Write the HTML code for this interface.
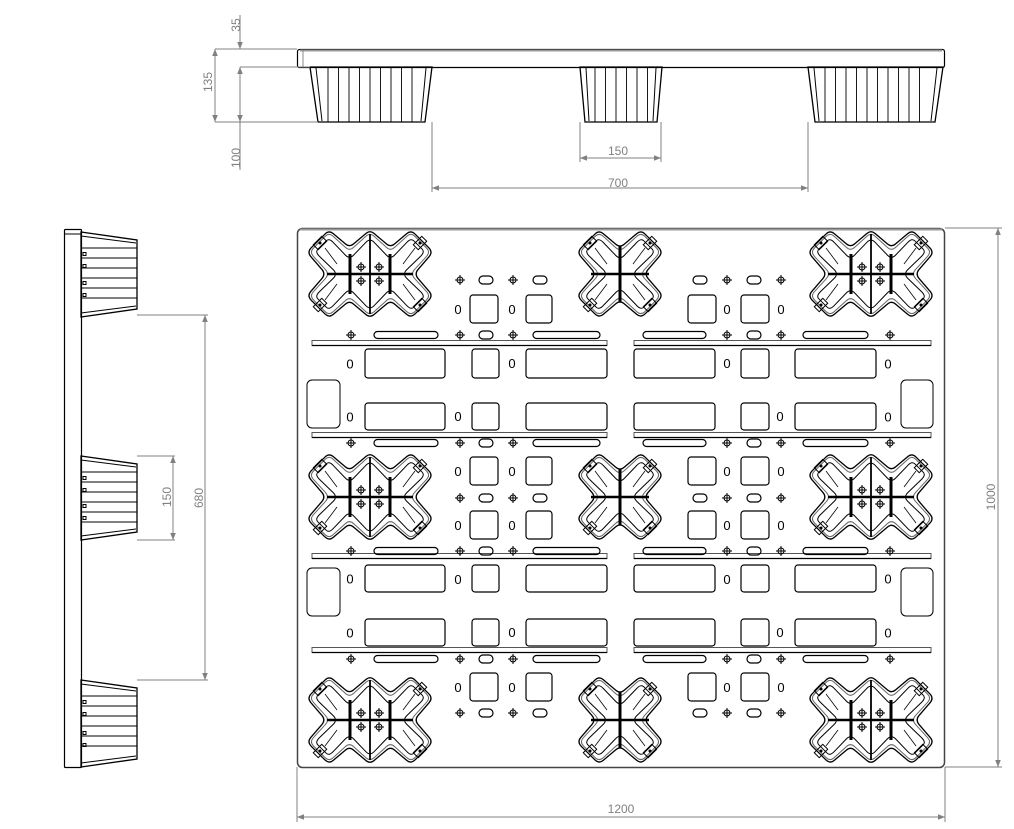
<!DOCTYPE html>
<html><head><meta charset="utf-8"><style>
html,body{margin:0;padding:0;background:#fff;width:1014px;height:829px;overflow:hidden}
svg{display:block}
text{font-family:"Liberation Sans",sans-serif;}
</style></head><body>
<svg id="s" width="1014" height="829" viewBox="0 0 1014 829" xmlns="http://www.w3.org/2000/svg">
<defs>
<marker id="ar" viewBox="0 0 10 10" refX="10" refY="5" markerWidth="9" markerHeight="7" orient="auto-start-reverse" markerUnits="userSpaceOnUse"><path d="M0,1 L10,5 L0,9 z" fill="#808080"/></marker>
</defs>
<g id="g"></g>
</svg>
<script>
var o='';
function L(x1,y1,x2,y2,c,w,ex){o+='<line x1="'+x1+'" y1="'+y1+'" x2="'+x2+'" y2="'+y2+'" stroke="'+(c||'#000')+'" stroke-width="'+(w||1)+'" '+(ex||'')+'/>';}
function R(x,y,w,h,r,c,sw,f){o+='<rect x="'+x+'" y="'+y+'" width="'+w+'" height="'+h+'" rx="'+(r||0)+'" fill="'+(f||'none')+'" stroke="'+(c||'#000')+'" stroke-width="'+(sw||1.2)+'"/>';}
function T(x,y,s,rot,sz,c){o+='<text x="'+x+'" y="'+y+'" font-size="'+(sz||13)+'" fill="'+(c||'#808080')+'" text-anchor="middle" '+(rot?'transform="rotate(-90 '+x+' '+y+')"':'')+'>'+s+'</text>';}
function Z(x,y){o+='<text x="'+x+'" y="'+(y+5)+'" font-size="13" fill="#000" text-anchor="middle">0</text>';}
function X(x,y){o+='<circle cx="'+x+'" cy="'+y+'" r="3" fill="none" stroke="#000" stroke-width="1"/>';L(x-5,y,x+5,y);L(x,y-5,x,y+5);}
function OV(x,y){R(x-7,y-4,14,8,4);}
function SL(x1,x2,y){R(x1,y-3.5,x2-x1,7,3.5);}
function A(x1,y1,x2,y2,both){L(x1,y1,x2,y2,'#808080',1,'marker-end="url(#ar)"'+(both?' marker-start="url(#ar)"':''));}
function rpath(p,t){var n=p.length,d='';
 for(var i=0;i<n;i++){var a=p[(i-1+n)%n],b=p[i],c=p[(i+1)%n];
  var p1=[b[0]+(a[0]-b[0])*t,b[1]+(a[1]-b[1])*t],p2=[b[0]+(c[0]-b[0])*t,b[1]+(c[1]-b[1])*t];
  d+=(i==0?'M':'L')+p1[0].toFixed(1)+','+p1[1].toFixed(1)+' Q'+b[0].toFixed(1)+','+b[1].toFixed(1)+' '+p2[0].toFixed(1)+','+p2[1].toFixed(1)+' ';}
 return d+'Z';}
R(297.5,228.5,647,539,5,'#444',1.5);
L(300,229.5,942,229.5,'#999',2);
function blk(cx,cy,n,s){
 var dy=22,d=22,xs=[];for(var i=0;i<n;i++)xs.push(cx+(i-(n-1)/2)*s);
 var ys=[cy-dy,cy+dy];
 function shape(dd,col,w){
  var p=[];var k=0.85;
  var top=ys[0]-dd,bot=ys[1]+dd;
  p.push([xs[0]-dd,ys[0]]);
  for(var i=0;i<n;i++){p.push([xs[i],top]);if(i<n-1)p.push([(xs[i]+xs[i+1])/2,top+s/2*k+(22-dd)*0.5]);}
  p.push([xs[n-1]+dd,ys[0]]);p.push([xs[n-1]+dd-dy*k-(22-dd)*0.5,cy]);p.push([xs[n-1]+dd,ys[1]]);
  for(var i=n-1;i>=0;i--){p.push([xs[i],bot]);if(i>0)p.push([(xs[i]+xs[i-1])/2,bot-s/2*k-(22-dd)*0.5]);}
  p.push([xs[0]-dd,ys[1]]);p.push([xs[0]-dd+dy*k+(22-dd)*0.5,cy]);
  o+='<path d="'+rpath(p,0.2)+'" fill="none" stroke="'+col+'" stroke-width="'+w+'"/>';
 }
 shape(d,'#000',1.3);shape(d-2.5,'#666',1);shape(d-8,'#000',1);
 [[xs[0]-9,ys[0]-9],[xs[n-1]+9,ys[0]-9],[xs[0]-9,ys[1]+9],[xs[n-1]+9,ys[1]+9]].forEach(function(q){
  o+='<rect x="'+(q[0]-3.5)+'" y="'+(q[1]-6)+'" width="7" height="12" fill="none" stroke="#000" stroke-width="1" transform="rotate(45 '+q[0]+' '+q[1]+')"/>';
  o+='<circle cx="'+q[0]+'" cy="'+q[1]+'" r="1.5"/>';});
 L(xs[0]-4,ys[0]-4,xs[0]+8,ys[0]+12,'#000',0.8);L(xs[n-1]+4,ys[0]-4,xs[n-1]-8,ys[0]+12,'#000',0.8);
 L(xs[0]-4,ys[1]+4,xs[0]+8,ys[1]-12,'#000',0.8);L(xs[n-1]+4,ys[1]+4,xs[n-1]-8,ys[1]-12,'#000',0.8);
 var hw=(xs[n-1]-xs[0])/2+(n==2?8:2);
 L(cx-hw,cy,cx+hw,cy,'#000',2.5);
 if(n==2){L(cx,cy-28,cx,cy+28,'#000',3);}
 else{L(cx-20,cy-20,cx-20,cy+20,'#000',3);L(cx+20,cy-20,cx+20,cy+20,'#000',3);L(cx,cy-40,cx,cy+40,'#000',1.8);
  [[-9,-7],[9,-7],[-9,7],[9,7]].forEach(function(q){X(cx+q[0],cy+q[1]);});}
}
[274,497,720].forEach(function(cy){blk(370,cy,3,41);blk(620,cy,2,42);blk(871,cy,3,41);});
[343,435,556,650].forEach(function(y){R(312,y-2.5,295,5,0,'#555',1);R(634,y-2.5,297,5,0,'#555',1);L(312,y+2.5,607,y+2.5,'#000',1.3);L(634,y+2.5,931,y+2.5,'#000',1.3);});
[[349,378],[403,430],[565,592],[619,646]].forEach(function(r){var y=r[0],h=r[1]-r[0];
 R(365,y,80,h,3);R(472,y,27,h,3);R(526,y,81,h,3);R(634,y,81,h,3);R(741,y,28,h,3);R(795,y,81,h,3);
 Z(350,y+h/2);Z(888,y+h/2);});
Z(512,363);Z(727,363);Z(458,416);Z(780,416);Z(458,579);Z(727,579);Z(512,632);Z(780,632);
R(307,380,33,48,5,'#000',1);R(901,380,32,48,5,'#000',1);R(307,568,33,48,5,'#000',1);R(901,568,32,48,5,'#000',1);
[335,443,551,659].forEach(function(y){
 X(351,y);SL(374,438,y);X(460,y);OV(486,y);X(513,y);SL(533,600,y);
 SL(643,706,y);X(727,y);OV(754,y);X(781,y);SL(803,868,y);X(890,y);});
function sq(y){R(470,y,28,28,3);R(526,y,26,28,3);R(688,y,28,28,3);R(741,y,28,28,3);Z(458,y+14);Z(512,y+14);Z(727,y+14);Z(781,y+14);}
sq(295);sq(457);sq(511);sq(673);
[280,498,713].forEach(function(y){X(460,y);OV(486,y);X(513,y);OV(540,y);OV(700,y);X(727,y);OV(754,y);X(781,y);});
R(297.5,49.5,647,18,2,'#000',1.2);L(300,50.5,942,50.5,'#999',2);L(303,50,303,67,'#888',1);
function tb(x1,x2,b1,b2){o+='<polygon points="'+x1+',67 '+x2+',67 '+b2+',122 '+b1+',122" fill="none" stroke="#000" stroke-width="1.3"/>';
 L(x1+6,68,b1+4,121,'#000',1);L(x2-6,68,b2-4,121,'#000',1);
 for(var x=b1+10;x<b2-6;x+=10.5)L(x,68,x,122,'#000',0.9);}
tb(310,432,318,425);tb(580,662,585,657);tb(808,943,815,935);
R(64.5,229.5,17,538,1,'#000',1.2);L(65,234,81,234,'#000',1);
function lb(y1,y2){o+='<polygon points="81,'+y1+' 137,'+(y1+8)+' 137,'+(y2-8)+' 81,'+y2+'" fill="none" stroke="#000" stroke-width="1.3"/>';
 L(81,y1+4,136,y1+11,'#000',1);L(81,y2-4,136,y2-11,'#000',1);
 for(var y=y1+16;y<y2-12;y+=10)L(82,y,137,y,'#000',0.9);
 [y1+22,y1+34,y2-34,y2-22].forEach(function(yy){R(83,yy-1.5,3,3,0,'#000',1);});}
lb(232,317);lb(456,540);lb(680,767);
var g='#808080';
L(215,49,297,49,g);L(240,67,310,67,g);L(215,122,318,122,g);
L(240,15,240,49,g,1,'marker-end="url(#ar)"');A(240,95,240,67);A(240,95,240,122);L(240,122,240,170,g);
A(215,85,215,49);A(215,85,215,122);
T(240,25,'35',1,12);T(212,82,'135',1,12);T(240,158,'100',1,12);
L(580,122,580,162,g);L(661,122,661,162,g);A(620,158,580,158);A(620,158,661,158);T(618,155,'150',0,12);
L(432,122,432,192,g);L(808,122,808,192,g);A(620,188,432,188);A(620,188,808,188);T(618,187,'700',0,12);
L(137,315,208,315,g);L(137,680,208,680,g);A(205,497,205,315);A(205,497,205,680);T(203,498,'680',1,12);
L(137,456,175,456,g);L(137,540,175,540,g);A(173,497,173,456);A(173,497,173,540);T(171,497,'150',1,12);
L(945,228,1002,228,g);L(945,767,1002,767,g);A(998,497,998,228);A(998,497,998,767);T(995,497,'1000',1,12);
L(297,767,297,822,g);L(945,767,945,822,g);A(621,817,297,817);A(621,817,945,817);T(621,813,'1200',0,12);
document.getElementById('g').innerHTML=o;
</script>
</body></html>
